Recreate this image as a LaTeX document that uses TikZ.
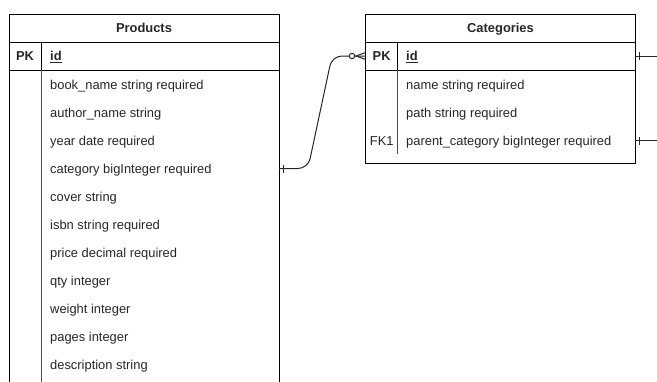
\documentclass[tikz,border=0pt]{standalone}
\usepackage{fontspec}
\setmainfont{Liberation Sans}
% underline drawn as a rule a little below the baseline
\newcommand\ulfield[1]{\setbox0\hbox{#1}\rlap{\rule[-2.3pt]{\wd0}{0.9pt}}\box0}
\begin{document}
\begin{tikzpicture}[x=1pt,y=-1pt,
  frame/.style={draw=black, line width=1pt, inner sep=0pt, outer sep=0pt, anchor=north west},
  rowrule/.style={draw=black, line width=1pt},
  keyrule/.style={draw=black!70, line width=1pt},
  txt/.style={inner sep=0pt, text height=9.4pt, text depth=0pt, text=black!85,
              font=\fontsize{12.9}{15}\selectfont},
  field/.style={txt, anchor=west},
  keytag/.style={txt, anchor=center},
  title/.style={txt, anchor=center, font=\fontsize{12.9}{15}\selectfont\bfseries},
  link/.style={draw=black!85, line width=1pt},
]
\useasboundingbox (0,0) rectangle (657,381);
\clip (0,0) rectangle (657,381);

% ---------- Products table ----------
\node[frame, minimum width=270pt, minimum height=420pt] (products) at (9,14) {};
\draw[rowrule] (9,42) -- (279,42);
\draw[rowrule] (9,70) -- (279,70);
\draw[rowrule] (41,42) -- (41,70);
\draw[keyrule] (41,70) -- (41,420);
\node[title] (prodTitle) at (144,28) {Products};
\node[keytag] (prodPK) at (25,56) {\bfseries PK};
\node[field] (prodId) at (50,56) {\bfseries\ulfield{id}};
\foreach \t [count=\i] in {book\_name string required, author\_name string,
    year date required, category bigInteger required, cover string,
    isbn string required, price decimal required, qty integer,
    weight integer, pages integer, description string}
  \node[field] (p\i) at (50,{84.5+28*(\i-1)}) {\t};

% ---------- Categories table ----------
\node[frame, minimum width=269.6pt, minimum height=149.7pt] (categories) at (365.7,14) {};
\draw[rowrule] (365.7,42) -- (635.3,42);
\draw[rowrule] (365.7,70) -- (635.3,70);
\draw[rowrule] (397.7,42) -- (397.7,70);
\draw[keyrule] (397.7,70) -- (397.7,154);
\node[title] (catTitle) at (500.5,28) {Categories};
\node[keytag] (catPK) at (381.7,56) {\bfseries PK};
\node[field] (cId) at (406,56) {\bfseries\ulfield{id}};
\node[field] (c1) at (406,84.5) {name string required};
\node[field] (c2) at (406,112.5) {path string required};
\node[keytag] (catFK) at (381.7,140.5) {FK1};
\node[field] (c3) at (406,140.5) {parent\_category bigInteger required};

% ---------- Products.category -> Categories.id ----------
\draw[link, rounded corners=10pt] (products.east |- p4) -- ++(29,0)
  -- ([xshift=-33.7pt]categories.west |- cId) -- (categories.west |- cId);
% one mark at the Products end
\draw[link] ([xshift=4pt,yshift=4pt]products.east |- p4)
  -- ([xshift=4pt,yshift=-4pt]products.east |- p4);
% zero-or-many at the Categories end
\coordinate (cfApex) at ([xshift=-9.7pt]categories.west |- cId);
\draw[link] ([yshift=3.5pt]categories.west |- cId) -- (cfApex)
  -- ([yshift=-3.5pt]categories.west |- cId);
\draw[link, fill=white] ([xshift=-13.7pt]categories.west |- cId) circle (2.7pt);

% ---------- self reference Categories.parent_category -> Categories.id ----------
\coordinate (selfTop) at ([xshift=30pt]categories.east |- cId);
\coordinate (selfBot) at ([xshift=30pt]categories.east |- c3);
\draw[link] (categories.east |- cId) -- (selfTop);
\draw[link] (categories.east |- c3) -- (selfBot);
\draw[link] ([xshift=4.4pt,yshift=4pt]categories.east |- cId)
  -- ([xshift=4.4pt,yshift=-4pt]categories.east |- cId);
\draw[link] ([xshift=4.4pt,yshift=4pt]categories.east |- c3)
  -- ([xshift=4.4pt,yshift=-4pt]categories.east |- c3);
\end{tikzpicture}
\end{document}
